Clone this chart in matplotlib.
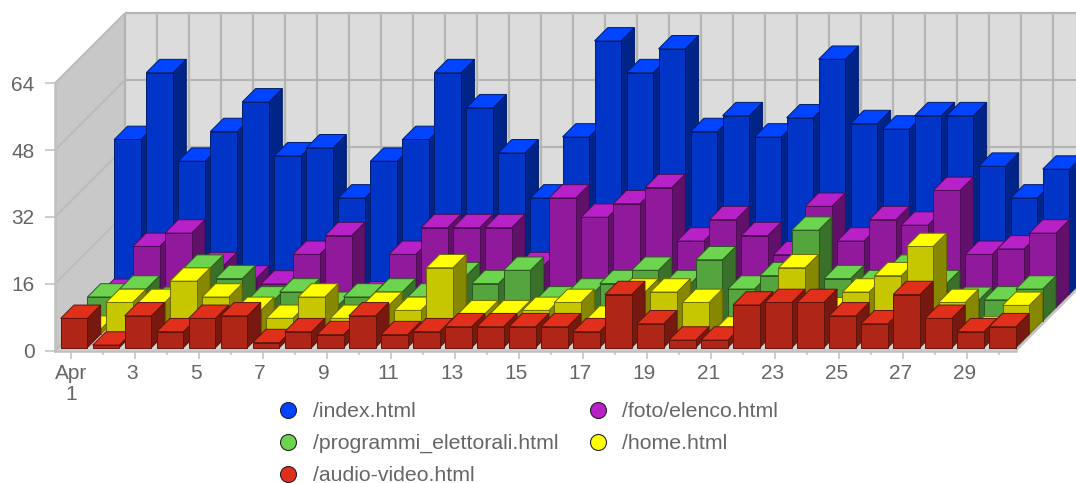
import matplotlib
matplotlib.use("Agg")
import matplotlib.pyplot as plt
from matplotlib.lines import Line2D
from matplotlib.patches import Polygon
from matplotlib.transforms import ScaledTranslation

days = list(range(1, 31))
x_labels = ["Apr\n1" if d == 1 else str(d) for d in days[::2]]
y_ticks = [0, 16, 32, 48, 64]

index_html = [37, 53, 31.8, 38.9, 46, 33.1, 35, 23, 31.8, 37, 53, 44.6, 33.8, 23, 37.6,
              60.6, 53, 58.7, 38.9, 42.7, 37.6, 42.2, 56.2, 40.8, 39.5, 42.7, 42.7, 30.6, 23, 29.9]
foto_elenco = [3.6, 14.6, 17.8, 10, 6.8, 5.6, 12.7, 17.2, 3, 12.7, 19.1, 19.1, 19.1, 10, 26.2,
               21.6, 24.8, 28.7, 15.9, 21, 17.2, 12.6, 24.2, 15.9, 21, 19.7, 28, 12.7, 14, 17.8]
programmi = [5.7, 7.6, 4.9, 12.6, 10.1, 5, 6.9, 3.7, 5.7, 6.9, 5.7, 10.8, 8.9, 12.1, 5,
             6.9, 8.9, 12.1, 8.9, 14.6, 7.6, 10.8, 21.7, 10.1, 8.9, 12.6, 8.9, 4.9, 5, 7.6]
home = [1.2, 7.6, 7.6, 12.7, 8.9, 5.7, 3.8, 8.9, 3.8, 6.9, 5.7, 15.9, 4.9, 4.9, 5.7,
        7.6, 3.6, 10.1, 10.1, 7.6, 1, 1, 15.9, 5.6, 10.1, 14, 21, 7.6, 1, 6.9]
audio_video = [7, 0.6, 7.6, 3.8, 7, 7.6, 1.2, 3.8, 3.1, 7.6, 3.1, 3.8, 5, 5, 5,
               5, 3.8, 12.7, 5.7, 1.8, 1.8, 10.2, 10.8, 10.8, 7.6, 5.7, 12.7, 7, 3.8, 5]

# back to front, the order they get painted in
series = [
    ("/index.html", index_html, "#0044ff"),
    ("/foto/elenco.html", foto_elenco, "#b820c8"),
    ("/programmi_elettorali.html", programmi, "#6cd44f"),
    ("/home.html", home, "#ffff00"),
    ("/audio-video.html", audio_video, "#e0301c"),
]

W, H = 1076, 483
LEFT, RIGHT, BOTTOM, TOP = 55, 1015.5, 350.6, 83.3
WALL_DEPTH = 70
DAY_PX = (RIGHT - LEFT) / len(days)
UNIT_PX = (BOTTOM - TOP) / y_ticks[-1]
BAR_PX = 26.7
BAR_DEPTH = 13.3
SERIES_STEP = 13.4
BAR_START = 5.67

plt.rcParams["font.family"] = ["Liberation Sans", "DejaVu Sans"]

fig = plt.figure(figsize=(W / 100, H / 100), dpi=100)
ax = fig.add_axes([LEFT / W, (H - BOTTOM) / H, (RIGHT - LEFT) / W, (BOTTOM - TOP) / H])
ax.set_xlim(0, len(days))
ax.set_ylim(0, y_ticks[-1])


def pt(x, v, depth):
    # oblique projection: depth in pixels goes up and to the right
    return (x + depth / DAY_PX, v + depth / UNIT_PX)


def shade(color, k):
    r, g, b = matplotlib.colors.to_rgb(color)
    return (r * k, g * k, b * k)


def face(points, fc, ec, lw=0.7):
    ax.add_patch(Polygon(points, closed=True, facecolor=fc, edgecolor=ec, linewidth=lw,
                         clip_on=False, joinstyle="miter"))


def line(points, color, lw=1.6):
    xs, ys = zip(*points)
    ax.plot(xs, ys, color=color, lw=lw, clip_on=False, solid_capstyle="butt", zorder=1)


# walls and floor
top = y_ticks[-1]
n = len(days)
face([pt(0, 0, 0), pt(0, 0, WALL_DEPTH), pt(0, top, WALL_DEPTH), pt(0, top, 0)], "#c8c8c8", "none")
face([pt(0, 0, WALL_DEPTH), pt(n, 0, WALL_DEPTH), pt(n, top, WALL_DEPTH), pt(0, top, WALL_DEPTH)], "#dcdcdc", "none")
face([pt(0, 0, 0), pt(n, 0, 0), pt(n, 0, WALL_DEPTH), pt(0, 0, WALL_DEPTH)], "#d2d2d2", "none")
for d in range(n + 1):
    line([pt(d, 0, WALL_DEPTH), pt(d, top, WALL_DEPTH)], "#b4b4b4")
for v in y_ticks:
    line([pt(0, v, 0), pt(0, v, WALL_DEPTH)], "#bcbcbc")
    line([pt(0, v, WALL_DEPTH), pt(n, v, WALL_DEPTH)], "#b4b4b4")
line([pt(n, 0, 0), pt(n, 0, WALL_DEPTH)], "#c4c4c4", lw=2)

# bars
bar_w = BAR_PX / DAY_PX
for s, (name, values, color) in enumerate(series):
    depth = SERIES_STEP * (len(series) - 1 - s)
    front, side, edge = shade(color, 0.78), shade(color, 0.53), shade(color, 0.42)
    for i, v in enumerate(values):
        x0 = i + BAR_START / DAY_PX - 3 / DAY_PX
        x1 = x0 + bar_w
        d0 = depth + 3
        d1 = d0 + BAR_DEPTH
        face([pt(x1, 0, d0), pt(x1, 0, d1), pt(x1, v, d1), pt(x1, v, d0)], side, edge)
        face([pt(x0, 0, d0), pt(x1, 0, d0), pt(x1, v, d0), pt(x0, v, d0)], front, edge)
        face([pt(x0, v, d0), pt(x1, v, d0), pt(x1, v, d1), pt(x0, v, d1)], color, edge)

# axes
for name in ["top", "right"]:
    ax.spines[name].set_visible(False)
for name in ["left", "bottom"]:
    ax.spines[name].set_color("#c0c0c0")
    ax.spines[name].set_linewidth(1.8)

ax.set_yticks(y_ticks)
ax.set_xticks([d - 0.5 for d in days[::2]])
ax.set_xticklabels(x_labels)
ax.set_xticks([d - 0.5 for d in days[1::2]], minor=True)
ax.tick_params(axis="y", length=7.2, width=1.1, color="#c0c0c0", labelcolor="#666666", labelsize=15, pad=7.6)
ax.tick_params(axis="x", which="major", length=5.8, width=1.1, color="#c0c0c0", labelcolor="#666666",
               labelsize=15, pad=4)
ax.tick_params(axis="x", which="minor", length=2.6, width=1.1, color="#c0c0c0")
for lab in ax.get_xticklabels()[1:]:
    lab.set_transform(lab.get_transform() + ScaledTranslation(-3 / 100, 0, fig.dpi_scale_trans))
for lab in ax.get_xticklabels():
    lab.set_linespacing(1.1)

# legend fills columns first, so the order is down then across
handles = []
for s in [0, 2, 4, 1, 3]:
    name, values, color = series[s]
    handles.append(Line2D([], [], linestyle="none", marker="o", markersize=11.5, markerfacecolor=color,
                          markeredgecolor="#222222", markeredgewidth=0.8, label=name))
leg = fig.legend(handles=handles, ncol=2, frameon=False, fontsize=15.3, labelcolor="#666666",
                 loc="upper left", bbox_to_anchor=(271 / W, 1 - 402 / H), borderaxespad=0, borderpad=0,
                 handlelength=1.6, handletextpad=0.36, columnspacing=1.06, labelspacing=0.61)

fig.savefig("out.png", dpi=100)
